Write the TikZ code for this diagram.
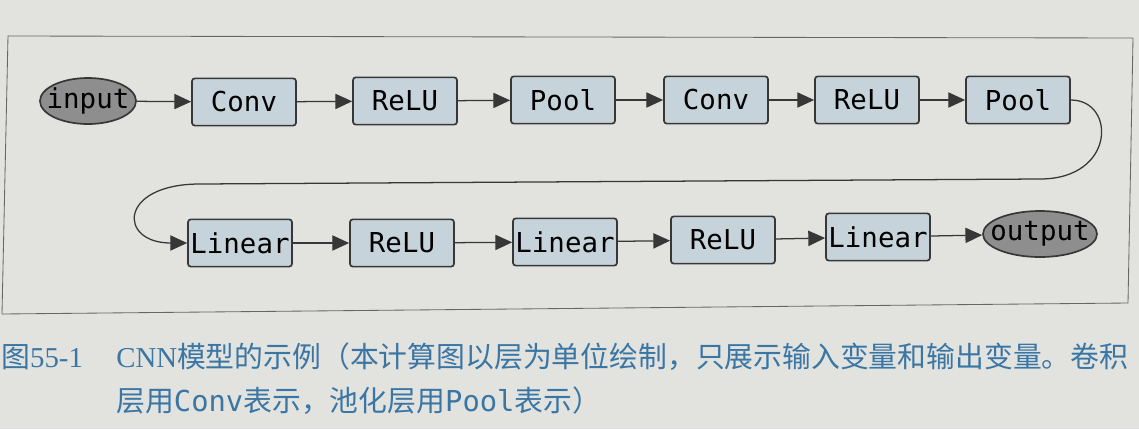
\documentclass[tikz,border=0pt]{standalone}
\usepackage{fontspec}
\setmainfont{Liberation Serif}
\setmonofont{DejaVu Sans Mono}
\newfontfamily\cjk{Noto Sans CJK SC}
\usetikzlibrary{shapes.geometric,arrows.meta}

\definecolor{paper}{RGB}{226,226,223}
\definecolor{boxfill}{RGB}{198,211,219}
\definecolor{iofill}{RGB}{142,142,142}
\definecolor{edgegray}{RGB}{55,55,55}
\definecolor{capblue}{RGB}{58,118,164}

\tikzset{
  layer/.style={draw=edgegray,line width=1.2pt,fill=boxfill,rounded corners=2pt,
    minimum width=2.6cm,minimum height=1.18cm,inner sep=1pt,
    font=\fontsize{19.5}{21}\selectfont\ttfamily},
  io/.style={ellipse,draw=edgegray,line width=1.2pt,fill=iofill,
    minimum height=1.15cm,inner sep=0pt,
    font=\fontsize{19.5}{21}\selectfont\ttfamily},
  flow/.style={->,draw=edgegray,line width=0.9pt},
  caption/.style={anchor=west,inner sep=0pt,text=capblue,
    font=\fontsize{20.5}{24}\selectfont}
}

\begin{document}
\begin{tikzpicture}[x=0.025cm,y=-0.025cm,>={Triangle[length=0.42cm,width=0.38cm]}]
   \useasboundingbox (0,0) rectangle (1139,429);
   \fill[paper] (0,0) rectangle (1139,429);
   % 枠
   \draw[gray!80!black,line width=0.6pt] (8,36) -- (1133,38) -- (1128,303) -- (2,314) -- cycle;

   % 1段目
   \node[io,minimum width=2.4cm] (in) at (88,101) {\makebox[0pt]{input}};
   \node[layer] (conv1) at (244,102) {Conv};
   \node[layer] (relu1) at (405,101) {ReLU};
   \node[layer] (pool1) at (563,100) {Pool};
   \node[layer] (conv2) at (716,100) {Conv};
   \node[layer] (relu2) at (867,100) {ReLU};
   \node[layer] (pool2) at (1018,100) {Pool};

   % 2段目
   \node[layer] (lin1) at (240,243) {Linear};
   \node[layer] (relu3) at (402,243) {ReLU};
   \node[layer] (lin2) at (565,242) {Linear};
   \node[layer] (relu4) at (723,240) {ReLU};
   \node[layer] (lin3) at (878,237) {Linear};
   \node[io,minimum width=2.85cm] (out) at (1040,234) {\makebox[0pt]{output}};

   \foreach \a/\b in {in/conv1,conv1/relu1,relu1/pool1,pool1/conv2,conv2/relu2,relu2/pool2,
                      lin1/relu3,relu3/lin2,lin2/relu4,relu4/lin3,lin3/out}
     \draw[flow] (\a) -- (\b);

   % 折り返し
   \draw[flow] (pool2.east) .. controls (1116,100) and (1116,179) .. (1040,179)
     -- (200,184) .. controls (118,184) and (118,243) .. (lin1.west);

   % キャプション
   \node[caption] (fignum) at (1,357) {{\cjk 图}55-1};
   \node[caption] (cap1) at (116,357) {CNN{\cjk 模型的示例（本计算图以层为单位绘制，只展示输入变量和输出变量。卷积}};
   \node[caption] (cap2) at (116,401) {{\cjk 层用}{\ttfamily Conv}{\cjk 表示，池化层用}{\ttfamily Pool}{\cjk 表示）}};
\end{tikzpicture}
\end{document}
